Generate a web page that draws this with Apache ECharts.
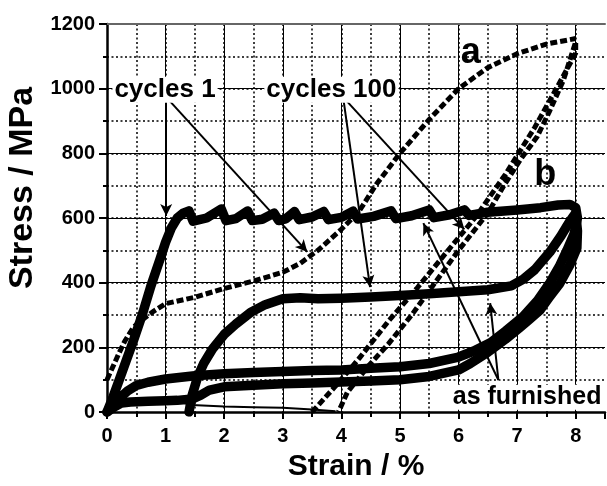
<!DOCTYPE html>
<html>
<head>
<meta charset="utf-8">
<script src="https://cdn.jsdelivr.net/npm/echarts@6/dist/echarts.min.js"></script>
<style>
html,body{margin:0;padding:0;background:#fff;}
#chart{width:607px;height:486px;}
</style>
</head>
<body>
<div id="chart"></div>
<script>
// ---- data (strain %, stress MPa) ----
const cyc1Strain = [0,0.1,0.2,0.3,0.45,0.6,0.75,0.9,1.0,1.1,1.2,1.3,1.4,1.47,1.7,1.95,2.03,2.2,2.4,2.48,2.65,2.85,2.93,3.05,3.2,3.28,3.5,3.7,3.78,4.0,4.2,4.28,4.55,4.85,4.93,5.2,5.5,5.58,5.85,6.1,6.18,6.5,7.0,7.4,7.7,7.9,8.0,
  8.03,7.97,7.85,7.72,7.56,7.35,7.1,6.8,6.55,6.25,6.0,5.5,5.0,4.5,4.0,3.5,3.0,2.5,2.0,1.5,1.0,0.7,0.5,0.35,0.2,0.1,0];
const cyc1Stress = [0,45,95,145,220,300,390,470,525,570,600,615,622,590,600,628,592,598,622,592,596,615,592,597,620,595,603,620,595,602,621,597,605,622,598,607,625,601,610,625,608,618,625,632,640,642,632,
  600,550,500,450,400,345,295,250,215,188,170,150,140,135,130,128,125,122,118,112,102,92,82,65,40,20,0];

const cyc100Strain = [1.4,1.45,1.55,1.65,1.8,2.0,2.2,2.45,2.7,3.0,3.3,3.6,4.0,4.5,5.0,5.5,6.0,6.5,6.9,7.1,7.3,7.56,7.75,7.9,8.0,
  8.03,8.02,7.9,7.73,7.55,7.39,7.2,7.05,6.8,6.5,6.2,6.0,5.5,5.0,4.5,4.0,3.5,3.0,2.5,2.0,1.75,1.6,1.45,1.2,1.0,0.7,0.4,0.25,0.12,0];
const cyc100Stress = [0,50,110,150,195,240,272,308,332,350,353,350,352,356,360,366,372,378,390,410,440,495,545,590,615,
  560,507,455,398,355,315,285,262,225,185,150,130,110,100,96,93,90,87,83,78,68,52,40,36,35,33,31,28,15,0];

const aStrain = [0,0.1,0.2,0.3,0.45,0.6,0.8,1.0,1.5,2.0,2.5,3.0,3.3,3.6,4.0,4.3,4.6,5.0,5.5,6.0,6.5,7.0,7.5,8.0];
const aStress = [100,140,180,218,262,285,312,335,355,382,405,432,460,500,565,620,705,800,905,1000,1065,1108,1138,1155];

const bStrain = [3.5,3.9,4.3,4.8,5.3,5.8,6.3,6.8,7.3,7.7,8.0,
  8.0,7.79,7.56,7.34,7.05,6.76,6.5,6.0,5.6,5.2,4.8,4.45,4.1,3.95];
const bStress = [0,80,165,280,385,495,605,735,880,1010,1110,
  1145,1026,933,851,779,696,615,500,400,300,210,140,60,0];

const baseStrain = [1.45,2.0,2.5,3.0,3.5,3.9];
const baseStress = [22,17,15,13,8,2];

// annotation texts (anchored in data coordinates)
const labelTexts  = ['cycles 1','cycles 100','as furnished','a','b'];
const labelStrain = [0.99,3.83,7.17,6.21,7.48];
const labelStress = [997,997,46,1110,733];

// arrows: [fromStrain, fromStress] -> [toStrain, toStress]
const arrowFrom = [[1.01,974],[1.01,974],[4.03,974],[4.03,974],[6.68,99],[6.68,99]];
const arrowTo   = [[1.01,606],[3.42,495],[4.49,386],[6.1,565],[6.54,337],[5.40,584]];

const xTicks = [0,1,2,3,4,5,6,7,8];
const yTicks = [0,200,400,600,800,1000,1200];

// ---- build ----
const FONT = '"Liberation Sans", Arial, sans-serif';
const zip = (xs, ys) => xs.map((x, i) => [x, ys[i]]);

const chart = echarts.init(document.getElementById('chart'), null, {renderer: 'canvas'});

const labelSizes = [26, 26, 25, 36, 36];
const labelData = labelTexts.map((t, i) => ({
  value: [labelStrain[i], labelStress[i]],
  label: {
    show: true, position: 'inside', formatter: t, opacity: 1,
    fontSize: labelSizes[i], fontWeight: 'bold', fontFamily: FONT, color: '#000',
    textBorderWidth: 0,
    backgroundColor: i < 3 ? '#fff' : 'transparent', padding: [0, 2, 0, 2]
  }
}));

const arrowData = arrowFrom.map((f, i) => [{coord: f}, {coord: arrowTo[i]}]);

const option = {
  animation: false,
  backgroundColor: '#fff',
  grid: {left: 107, right: 2, top: 24, bottom: 74, containLabel: false, outerBoundsMode: 'none'},
  xAxis: [
    {
      type: 'value', min: xTicks[0], max: 8.5, interval: 1, position: 'bottom',
      axisLine: {show: true, onZero: false, lineStyle: {color: '#000', width: 2.5}},
      axisTick: {show: true, length: 7, lineStyle: {color: '#000', width: 2}},
      axisLabel: {
        formatter: v => (xTicks.indexOf(v) >= 0 ? String(v) : ''),
        margin: 14, color: '#000', fontSize: 20, fontWeight: 'bold', fontFamily: FONT
      },
      splitLine: {show: true, showMinLine: false, showMaxLine: false, lineStyle: {color: '#000', width: 1}},
      name: 'Strain / %', nameLocation: 'middle', nameGap: 40,
      nameTextStyle: {color: '#000', fontSize: 30, fontWeight: 'bold', fontFamily: FONT}
    },
    {
      type: 'value', min: 0, max: 8.5, interval: 0.5, position: 'bottom',
      axisLine: {show: false, onZero: false},
      axisTick: {show: true, length: 5, lineStyle: {color: '#000', width: 2}},
      axisLabel: {show: false},
      splitLine: {show: true, showMinLine: false, showMaxLine: false, lineStyle: {color: '#000', width: 1.5, type: [2, 2.5]}}
    },
    {
      type: 'value', min: 0, max: 8.5, position: 'top',
      axisLine: {show: true, onZero: false, lineStyle: {color: '#666', width: 2}},
      axisTick: {show: false}, axisLabel: {show: false}, splitLine: {show: false}
    }
  ],
  yAxis: [
    {
      type: 'value', min: yTicks[0], max: yTicks[yTicks.length - 1], interval: 200, position: 'left',
      axisLine: {show: true, onZero: false, lineStyle: {color: '#000', width: 2.5}},
      axisTick: {show: true, length: 8, lineStyle: {color: '#000', width: 2}},
      axisLabel: {formatter: v => String(v), margin: 12, color: '#000', fontSize: 20, fontWeight: 'bold', fontFamily: FONT},
      splitLine: {show: true, showMinLine: false, showMaxLine: false, lineStyle: {color: '#000', width: 1}},
      name: 'Stress / MPa', nameLocation: 'middle', nameGap: 62,
      nameTextStyle: {color: '#000', fontSize: 34, fontWeight: 'bold', fontFamily: FONT, padding: [0, 0, 0, 60]}
    },
    {
      type: 'value', min: 0, max: 1200, interval: 100, position: 'left',
      axisLine: {show: false, onZero: false},
      axisTick: {show: true, length: 4, lineStyle: {color: '#000', width: 2}},
      axisLabel: {show: false},
      splitLine: {show: true, showMinLine: false, showMaxLine: false, lineStyle: {color: '#000', width: 1.5, type: [2, 2.5]}}
    }
  ],
  series: [
    {
      type: 'line', name: 'b', data: zip(bStrain, bStress), symbol: 'none', silent: true, z: 3,
      lineStyle: {color: '#000', width: 5, type: [7, 3]}
    },
    {
      type: 'line', name: 'a', data: zip(aStrain, aStress), symbol: 'none', silent: true, z: 3,
      lineStyle: {color: '#000', width: 5, type: [7, 3]}
    },
    {
      type: 'line', name: 'base', data: zip(baseStrain, baseStress), symbol: 'none', silent: true, z: 3,
      lineStyle: {color: '#000', width: 2},
      markLine: {
        silent: true, symbol: ['none', 'arrow'], symbolSize: [9, 12],
        label: {show: false},
        itemStyle: {color: '#000', opacity: 1},
        lineStyle: {color: '#000', width: 2, type: 'solid', opacity: 1},
        data: arrowData
      }
    },
    {
      type: 'line', name: 'cycles 100', data: zip(cyc100Strain, cyc100Stress), symbol: 'none', silent: true, z: 4,
      lineStyle: {color: '#000', width: 9.5, join: 'round', cap: 'round'}
    },
    {
      type: 'line', name: 'cycles 1', data: zip(cyc1Strain, cyc1Stress), symbol: 'none', silent: true, z: 4,
      lineStyle: {color: '#000', width: 9.5, join: 'round', cap: 'round'}
    },
    {
      type: 'scatter', name: 'labels', data: labelData, symbolSize: 0, silent: true, z: 10,
      itemStyle: {color: '#000', opacity: 1}
    }
  ]
};
chart.setOption(option);
</script>
</body>
</html>
